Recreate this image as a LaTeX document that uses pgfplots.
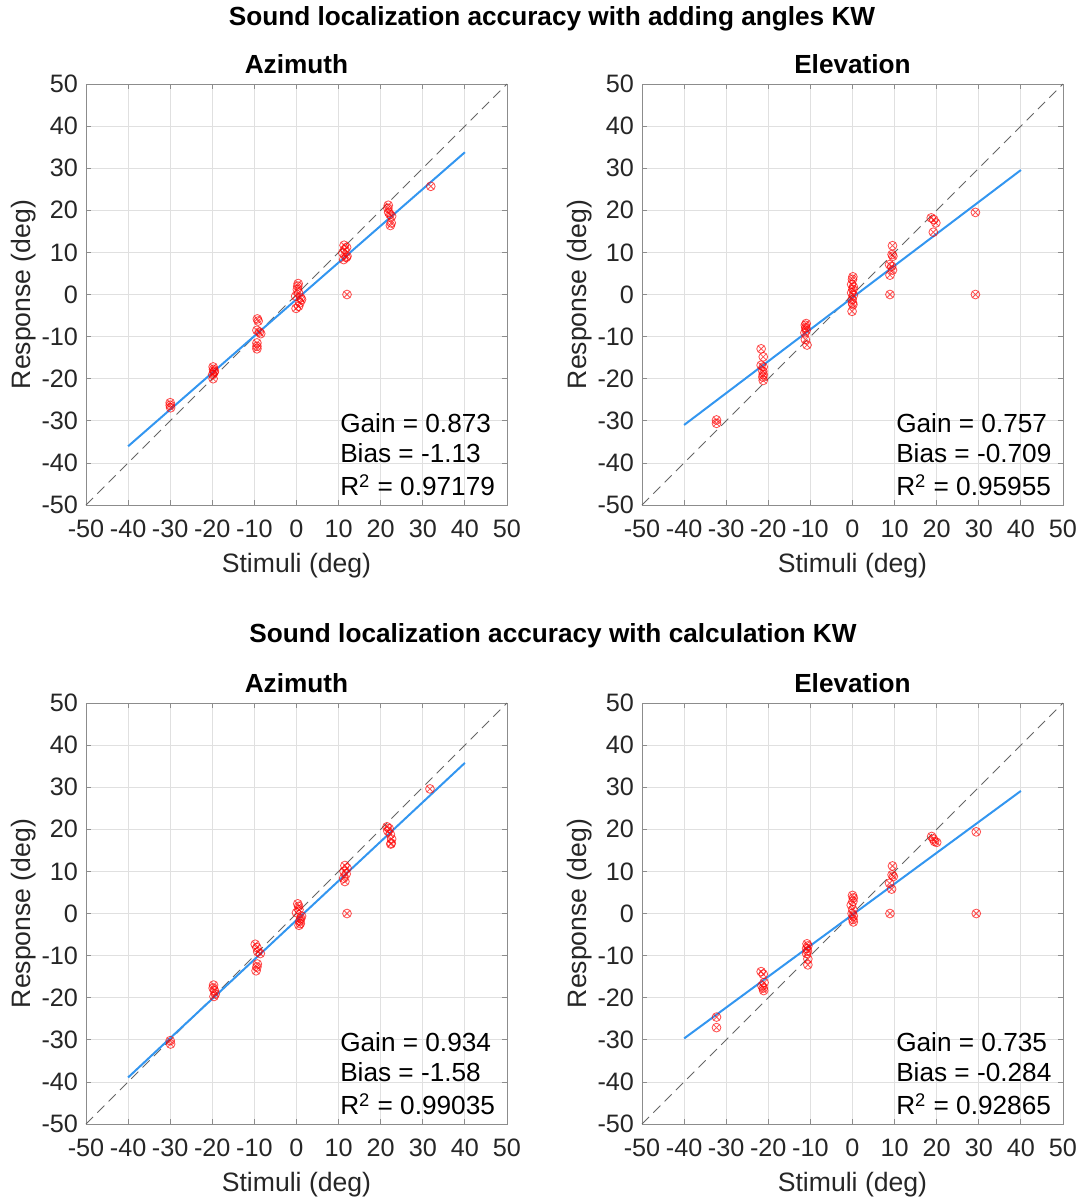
\documentclass[border=0pt]{standalone}
\usepackage{pgfplots}
\pgfplotsset{compat=1.18}
\usepackage{fontspec}
\setmainfont{Liberation Sans}
\usetikzlibrary{plotmarks}
\definecolor{fitblue}{RGB}{51,150,240}
\definecolor{ptred}{RGB}{255,0,0}
\definecolor{txtgray}{RGB}{38,38,38}
\pgfplotsset{panel/.style={
  width=210.5pt, height=210.5pt, scale only axis,
  xmin=-50,xmax=50,ymin=-50,ymax=50,
  xtick={-50,-40,...,50}, ytick={-50,-40,...,50},
  xticklabels={-50,-40,-30,-20,-10,0,10,20,30,40,50},
  yticklabels={-50,-40,-30,-20,-10,0,10,20,30,40,50},
  grid=major, major grid style={black!12, line width=0.4pt},
  tick align=inside, major tick length=2.5pt,
  axis line style={black!45, line width=0.4pt},
  tick style={black!45, line width=0.4pt},
  ticklabel style={font=\fontsize{12.6}{14}\selectfont, text=txtgray},
  xticklabel style={yshift=-4pt},
  yticklabel style={xshift=-0.5pt},
  xlabel={Stimuli (deg)}, ylabel={Response (deg)},
  label style={font=\fontsize{13.3}{15}\selectfont, text=txtgray},
  xlabel style={at={(axis description cs:0.5,-0.145)}, anchor=center},
  ylabel style={at={(axis description cs:-0.149,0.5)}, anchor=center},
  title style={font=\bfseries\fontsize{13.1}{15}\selectfont, yshift=-4.5pt},
  clip=false,
}}
\pgfplotsset{pts/.style={only marks, mark=otimes, mark size=2.2pt, mark options={draw=ptred, line width=0.4pt, draw opacity=0.7}},
  diag/.style={black!60, dashed, dash pattern=on 5pt off 3pt, line width=0.5pt},
  fit/.style={fitblue, line width=1pt}}
\newcommand{\ann}[3]{%
  \node[anchor=west, font=\fontsize{13.1}{15}\selectfont, inner sep=0pt] at (rel axis cs:0.603,0.195) {#1};
  \node[anchor=west, font=\fontsize{13.1}{15}\selectfont, inner sep=0pt] at (rel axis cs:0.603,0.124) {#2};
  \node[anchor=west, font=\fontsize{13.1}{15}\selectfont, inner sep=0pt] at (rel axis cs:0.603,0.047) {#3};}
\begin{document}
\begin{tikzpicture}
\useasboundingbox (0,0) rectangle (543pt,-600pt);
\node[font=\bfseries\fontsize{13.1}{15}\selectfont] at (276pt,-9.5pt) {Sound localization accuracy with adding angles KW};
\node[font=\bfseries\fontsize{13.1}{15}\selectfont] at (276.5pt,-318pt) {Sound localization accuracy with calculation KW};

% Top-left: Azimuth, adding angles
\begin{axis}[panel, at={(43pt,-252.5pt)}, anchor=south west, title={Azimuth}]
\addplot[diag] coordinates {(-50,-50) (50,50)};
\addplot[pts] coordinates {
(-30,-25.7) (-30,-26.3) (-29.9,-26.9)
(-19.8,-17.2) (-19.7,-17.8) (-19.6,-18.5) (-19.9,-19) (-19.8,-20) (-19.5,-18.2)
(-9.3,-5.8) (-9.1,-6.3) (-9.4,-8.5) (-8.8,-8.9) (-8.5,-9.3) (-9.4,-11.5) (-9.4,-12.3) (-9.4,-12.9)
(0.4,2.6) (0.3,2) (0.2,1.2) (0.5,0.4) (-0.2,-0.4) (1,-0.8) (1.2,-1.2) (0.8,-2) (0.5,-2.8) (-0.1,-3.3)
(11.3,11.7) (11.9,11.2) (11.5,10.7) (11,9.9) (12,9.1) (11.2,8.3) (11.8,8.8) (12,0)
(21.8,21.2) (21.7,20.5) (21.9,19.5) (22.2,19) (22.6,18.6) (22.5,17) (22.3,16.4)
(31.9,25.7)};
\addplot[fit] coordinates {(-40,-36.05) (40,33.79)};
\ann{Gain = 0.873}{Bias = -1.13}{R\textsuperscript{2} = 0.97179}
\end{axis}

% Top-right: Elevation, adding angles
\begin{axis}[panel, at={(321pt,-252.5pt)}, anchor=south west, title={Elevation}]
\addplot[diag] coordinates {(-50,-50) (50,50)};
\addplot[pts] coordinates {
(-32.3,-29.8) (-32.3,-30.6)
(-21.7,-12.9) (-21.2,-14.8) (-21.7,-16.8) (-21.2,-17.2) (-21.3,-18.2) (-21.2,-19) (-21.3,-19.6) (-21.2,-20.4)
(-11,-6.9) (-11.2,-7.3) (-11.1,-7.9) (-11,-8.5) (-11.3,-9.1) (-11.2,-10.7) (-10.8,-12)
(0.1,4.2) (0,3.6) (-0.2,2.4) (0.2,1.8) (0.1,1.2) (-0.2,0.4) (0.2,-0.2) (-0.1,-1.2) (0,-2) (0.1,-2.4) (-0.1,-4)
(9.5,11.6) (9.4,9.5) (9.6,9.1) (8.8,7.1) (9.3,6.7) (9.5,5.8) (8.9,4.6) (8.9,0)
(18.7,18.2) (19.3,17.8) (19.8,17) (19.2,14.8)
(29.2,19.5) (29.2,0)};
\addplot[fit] coordinates {(-40,-30.99) (40,29.57)};
\ann{Gain = 0.757}{Bias = -0.709}{R\textsuperscript{2} = 0.95955}
\end{axis}

% Bottom-left: Azimuth, calculation
\begin{axis}[panel, at={(43pt,-562pt)}, anchor=south west, title={Azimuth}]
\addplot[diag] coordinates {(-50,-50) (50,50)};
\addplot[pts] coordinates {
(-30,-30.2) (-29.9,-31)
(-19.7,-17) (-19.8,-17.7) (-19.5,-18.3) (-19.3,-19.1) (-19.6,-19.7)
(-9.8,-7.3) (-9.4,-8.1) (-9.2,-9.1) (-8.6,-9.5) (-9.3,-12) (-9.4,-12.7) (-9.6,-13.6)
(0.3,2.3) (0.5,1.7) (0.6,0.9) (0,0.2) (1.2,-0.6) (1,-1.2) (0.8,-1.8) (0.9,-2.4) (0.6,-2.8)
(11.5,11.4) (12,10.8) (11.3,10) (11.8,9.4) (11.2,8.4) (11.5,7.6) (12,0)
(21.5,20.6) (22,20.2) (21.7,19.6) (22.3,18.8) (22.6,17.7) (22.5,16.7) (22.4,16.5)
(31.7,29.6)};
\addplot[fit] coordinates {(-40,-38.94) (40,35.78)};
\ann{Gain = 0.934}{Bias = -1.58}{R\textsuperscript{2} = 0.99035}
\end{axis}

% Bottom-right: Elevation, calculation
\begin{axis}[panel, at={(321pt,-562pt)}, anchor=south west, title={Elevation}]
\addplot[diag] coordinates {(-50,-50) (50,50)};
\addplot[pts] coordinates {
(-32.3,-24.6) (-32.3,-27.1)
(-21.7,-13.8) (-21.2,-14.4) (-21,-16.4) (-21.5,-17.2) (-21.2,-17.7) (-21.1,-18.3)
(-10.8,-7.2) (-10.6,-7.7) (-10.9,-8.3) (-10.7,-8.9) (-10.9,-9.5) (-10.6,-10.8) (-10.6,-12.2)
(0,4.3) (0.2,3.7) (0.1,2.9) (-0.3,2) (0.1,0.9) (-0.1,0) (0.2,-0.6) (0.1,-1.4) (0.2,-2)
(9.5,11.3) (9.4,9.2) (9.7,8.8) (8.8,7.2) (9.3,5.8) (8.9,0)
(18.8,18.3) (19.2,17.7) (19.5,17.1) (20,16.9)
(29.4,19.4) (29.4,0)};
\addplot[fit] coordinates {(-40,-29.68) (40,29.12)};
\ann{Gain = 0.735}{Bias = -0.284}{R\textsuperscript{2} = 0.92865}
\end{axis}
\end{tikzpicture}
\end{document}
